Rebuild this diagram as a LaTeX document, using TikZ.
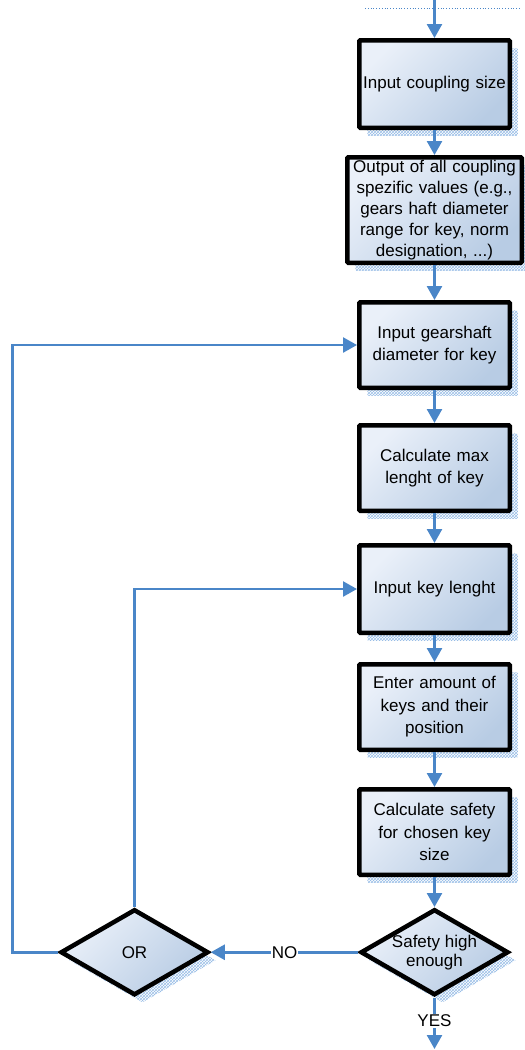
\documentclass[tikz,border=0pt]{standalone}
\usepackage{fontspec}
\setmainfont{Liberation Sans}
\usetikzlibrary{arrows.meta,positioning,shapes.geometric,shadows,patterns}
\definecolor{connblue}{RGB}{74,134,200}
\definecolor{boxlight}{RGB}{234,240,249}
\definecolor{boxdark}{RGB}{184,204,228}
\definecolor{shadowblue}{RGB}{110,160,220}

\begin{document}
\begin{tikzpicture}[
    x=1pt, y=-1pt,
    font=\fontsize{17pt}{22.5pt}\selectfont,
    node distance=30pt,
    shade/.style={
        top color=boxlight,
        bottom color=boxdark,
        shading angle=45,
        draw=black,
        line width=4.5pt,
        drop shadow={shadow xshift=8pt, shadow yshift=-8pt,
                     pattern=crosshatch, pattern color=shadowblue!70, opacity=1}
    },
    box/.style={
        shade,
        rectangle,
        rounded corners=1pt,
        minimum width=150.5pt,
        minimum height=85.5pt,
        text width=148pt,
        align=center,
        inner xsep=0pt,
        inner ysep=0pt
    },
    decision/.style={
        shade,
        diamond,
        aspect=1.7,
        minimum width=148pt,
        minimum height=86pt,
        align=center,
        inner sep=0pt,
        font=\fontsize{17pt}{19pt}\selectfont
    },
    conn/.style={-{Triangle[length=14pt,width=15pt]}, line width=2.5pt, draw=connblue},
    tag/.style={fill=white, inner sep=1pt}
]
\useasboundingbox (0,0) rectangle (525,1050);

% Main chain
\node[box, minimum height=87.5pt] (size) at (434.5,84) {Input coupling size};
\node[box, below=25pt of size, minimum width=174.5pt, minimum height=105.5pt, text width=172pt,
      font=\fontsize{17pt}{21pt}\selectfont] (values)
    {Output of all coupling spezific values (e.g., gears haft diameter range for key, norm designation, ...)};
\node[box, below=35pt of values] (shaft) {Input gearshaft\\diameter for key};
\node[box, below=33pt of shaft] (maxlen) {Calculate max\\lenght of key};
\node[box, below=30pt of maxlen, minimum height=87.5pt] (keylen) {Input key lenght};
\node[box, below=27pt of keylen] (amount) {Enter amount of\\keys and their\\position};
\node[box, below=35pt of amount] (safety) {Calculate safety\\for chosen key\\size};
\node[decision, below=30pt of safety] (enough) {Safety high\\enough};
\node[decision, xshift=-300pt] (or) at (enough) {OR};

% Entry and exit
\coordinate (entry) at (434.5,0);
\coordinate (lineL) at (365,8);
\coordinate (lineR) at (520,8);
\coordinate (exit) at (434.5,1049);
\draw[connblue, line width=0.8pt, dotted] (lineL) -- (lineR);

% Connectors
\draw[conn] (entry) -- (size);
\draw[conn] (size) -- (values);
\draw[conn] (values) -- (shaft);
\draw[conn] (shaft) -- (maxlen);
\draw[conn] (maxlen) -- (keylen);
\draw[conn] (keylen) -- (amount);
\draw[conn] (amount) -- (safety);
\draw[conn] (safety) -- (enough);
\draw[conn] (enough) -- node[tag, pos=0.45] {YES} (exit);
\draw[conn] (enough.west) -- node[tag] {NO} (or.east);

% Loops back
\draw[conn] (or.west) -- ++(-46,0) |- (shaft.west);
\draw[conn] (or.north) |- (keylen.west);

\end{tikzpicture}
\end{document}
